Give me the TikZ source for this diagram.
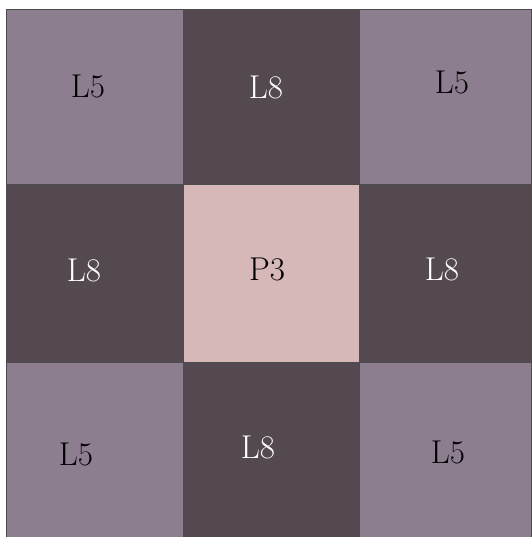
\documentclass[tikz,border=0pt]{standalone}
\definecolor{corner}{RGB}{140,125,143}
\definecolor{darkc}{RGB}{84,73,81}
\definecolor{centerc}{RGB}{213,184,183}
\tikzset{
  cell/.style={draw=black!70, line width=0.5pt},
  lab/.style={font=\fontsize{33}{36}\selectfont, inner sep=0pt},
}
\begin{document}
\begin{tikzpicture}[x=1pt,y=-1pt]
\useasboundingbox (0,0) rectangle (531,537);
\fill[white] (0,0) rectangle (531,537);
% columns 6,183,359,531 ; rows 9,184,362,537
\path[cell, fill=corner] (6,9) rectangle (183,184);
\path[cell, fill=darkc] (183,9) rectangle (359,184);
\path[cell, fill=corner] (359,9) rectangle (531,184);
\path[cell, fill=darkc] (6,184) rectangle (183,362);
\path[cell, fill=centerc] (183,184) rectangle (359,362);
\path[cell, fill=darkc] (359,184) rectangle (531,362);
\path[cell, fill=corner] (6,362) rectangle (183,537);
\path[cell, fill=darkc] (183,362) rectangle (359,537);
\path[cell, fill=corner] (359,362) rectangle (531,537);
\node[lab, text=black] (a) at (88,86) {L5};
\node[lab, text=white] (b) at (266,87) {L8};
\node[lab, text=black] (c) at (452,82) {L5};
\node[lab, text=white] (d) at (84,270) {L8};
\node[lab, text=black] (e) at (267,269) {P3};
\node[lab, text=white] (f) at (442,269) {L8};
\node[lab, text=black] (g) at (76,454) {L5};
\node[lab, text=white] (h) at (258,447) {L8};
\node[lab, text=black] (i) at (448,452) {L5};
\end{tikzpicture}
\end{document}
